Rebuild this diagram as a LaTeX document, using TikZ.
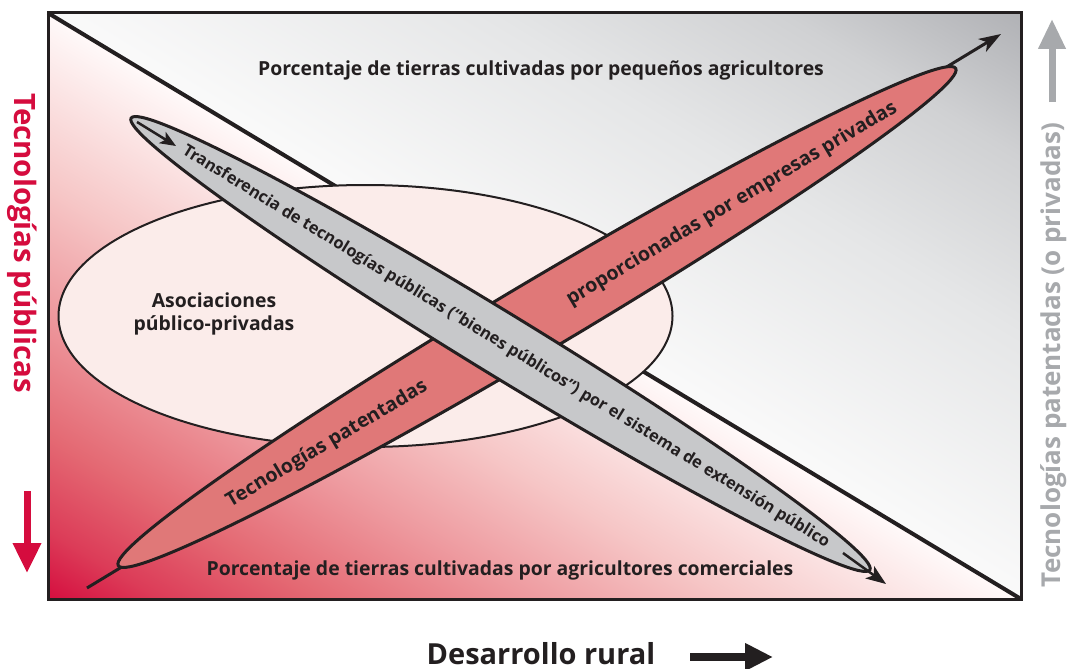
\documentclass[tikz,border=0pt]{standalone}
\usepackage{fontspec}
\setmainfont{Open Sans}
\usetikzlibrary{arrows.meta}
\definecolor{crim}{RGB}{213,12,62}
\definecolor{darktxt}{RGB}{35,31,32}
\definecolor{graytxt}{RGB}{167,169,172}
\definecolor{redband}{RGB}{224,120,120}
\definecolor{grayband}{RGB}{199,200,202}
\definecolor{pinkell}{RGB}{251,236,234}
\definecolor{rA}{RGB}{220,60,88}
\definecolor{rB}{RGB}{228,105,115}
\definecolor{rC}{RGB}{238,155,160}
\definecolor{rD}{RGB}{246,198,198}
\definecolor{rE}{RGB}{255,250,250}
\definecolor{gA}{RGB}{250,250,250}
\definecolor{gB}{RGB}{229,230,231}
\definecolor{gC}{RGB}{208,209,211}
\definecolor{gD}{RGB}{176,177,181}
\pgfdeclarehorizontalshading{redgrad}{100bp}{color(0bp)=(crim); color(25bp)=(crim); color(31bp)=(rA); color(39bp)=(rB); color(50bp)=(rC); color(60bp)=(rD); color(75bp)=(rE); color(100bp)=(rE)}
\pgfdeclarehorizontalshading{graygrad}{100bp}{color(0bp)=(gA); color(25bp)=(gA); color(47.5bp)=(gB); color(62.5bp)=(gC); color(75bp)=(gD); color(100bp)=(gD)}
\begin{document}
\begin{tikzpicture}[x=1pt,y=1pt,
  band/.style={draw=darktxt, line width=3pt},
  lbl/.style={text=darktxt, inner sep=0pt, font=\bfseries\fontsize{19.4}{23}\selectfont},
  bandlbl/.style={text=darktxt, inner sep=0pt, font=\bfseries\fontsize{19.6}{22}\selectfont},
  arr/.style={draw=darktxt, line width=3pt}]
\useasboundingbox (0,0) rectangle (1068,-669);
\fill[white] (0,0) rectangle (1068,-669);
\coordinate (TL) at (48,-13);
\coordinate (TR) at (1021,-13);
\coordinate (BR) at (1021,-599);
\coordinate (BL) at (48,-599);
% gradients
\begin{scope}
  \clip (TL) -- (BR) -- (BL) -- cycle;
  \begin{scope}[transform canvas={shift={(48,-599)}, rotate=58.94}]
    \shade[shading=redgrad] (-2,-900) rectangle (504,400);
  \end{scope}
\end{scope}
\begin{scope}
  \clip (TL) -- (TR) -- (BR) -- cycle;
  \begin{scope}[transform canvas={shift={(48,-599)}, rotate=58.94}]
    \shade[shading=graygrad] (500,-900) rectangle (1006,400);
  \end{scope}
\end{scope}
% diagonal
\draw[darktxt, line width=4pt] (TL) -- (BR);
% public-private ellipse
\coordinate (pe) at (365.5,-316);
\draw[darktxt, line width=2pt, fill=pinkell] (pe) ellipse [x radius=307pt, y radius=131pt];
% red band arrow
\coordinate (ra1) at (87,-588);
\coordinate (ra2) at (1001,-34);
\draw[arr, -{Stealth[length=22pt,width=15pt,inset=6pt]}] (ra1) -- (ra2);
% red band
\coordinate (rc) at (537,-317);
\draw[band, fill=redband, shift={(rc)}, rotate=30.7] (0,0) ellipse [x radius=487pt, y radius=35pt];
% gray band
\coordinate (gc) at (500.5,-344);
\draw[band, fill=grayband, shift={(gc)}, rotate=-31.45] (0,0) ellipse [x radius=433pt, y radius=31pt];
% gray arrows
\coordinate (ga1) at (137,-122);
\coordinate (ga2) at (176,-146);
\coordinate (ga3) at (843,-553);
\coordinate (ga4) at (886,-584);
\draw[arr, line width=2.5pt, -{Stealth[length=16pt,width=13pt,inset=4pt]}] (ga1) -- (ga2);
\draw[arr, line width=2.5pt, -{Stealth[length=20pt,width=15pt,inset=5pt]}] (ga3) -- (ga4);
% frame
\draw[darktxt, line width=3pt] (TL) rectangle (BR);
% texts
\node[lbl, anchor=base] (top) at (541,-75) {Porcentaje de tierras cultivadas por pequeños agricultores};
\node[lbl, anchor=base] (bot) at (500,-575) {Porcentaje de tierras cultivadas por agricultores comerciales};
\node[lbl, align=center] (asoc) at (214,-314) {Asociaciones\\público-privadas};
\node[bandlbl, rotate=30.7] (rt1) at (327,-444) {Tecnologías patentadas};
\node[bandlbl, rotate=30.7] (rt2) at (732,-204) {proporcionadas por empresas privadas};
\node[bandlbl, font=\bfseries\fontsize{16.4}{18}\selectfont, rotate=-31.45] (gt) at (506,-347) {Transferencia de tecnologías públicas (“bienes públicos”) por el sistema de extensión público};
% left axis
\node[inner sep=0pt, text=crim, font=\bfseries\fontsize{29.4}{32}\selectfont, rotate=-90] (ltxt) at (22,-243) {Tecnologías públicas};
\coordinate (la1) at (27,-491);
\coordinate (la2) at (27,-573);
\draw[crim, line width=7pt, -{Triangle[length=30pt,width=27pt]}] (la1) -- (la2);
% right axis
\node[inner sep=0pt, text=graytxt, font=\bfseries\fontsize{26}{29}\selectfont, rotate=90] (rtxt) at (1054,-355) {Tecnologías patentadas (o privadas)};
\coordinate (rg1) at (1052,-102);
\coordinate (rg2) at (1052,-19);
\draw[graytxt, line width=7pt, -{Triangle[length=30pt,width=26pt]}] (rg1) -- (rg2);
% bottom axis
\node[inner sep=0pt, text=darktxt, font=\bfseries\fontsize{29}{32}\selectfont, anchor=base] (dev) at (541,-664) {Desarrollo rural};
\coordinate (ba1) at (690,-657);
\coordinate (ba2) at (773,-657);
\draw[darktxt, line width=8pt, -{Triangle[length=28pt,width=26pt]}] (ba1) -- (ba2);
\end{tikzpicture}
\end{document}
